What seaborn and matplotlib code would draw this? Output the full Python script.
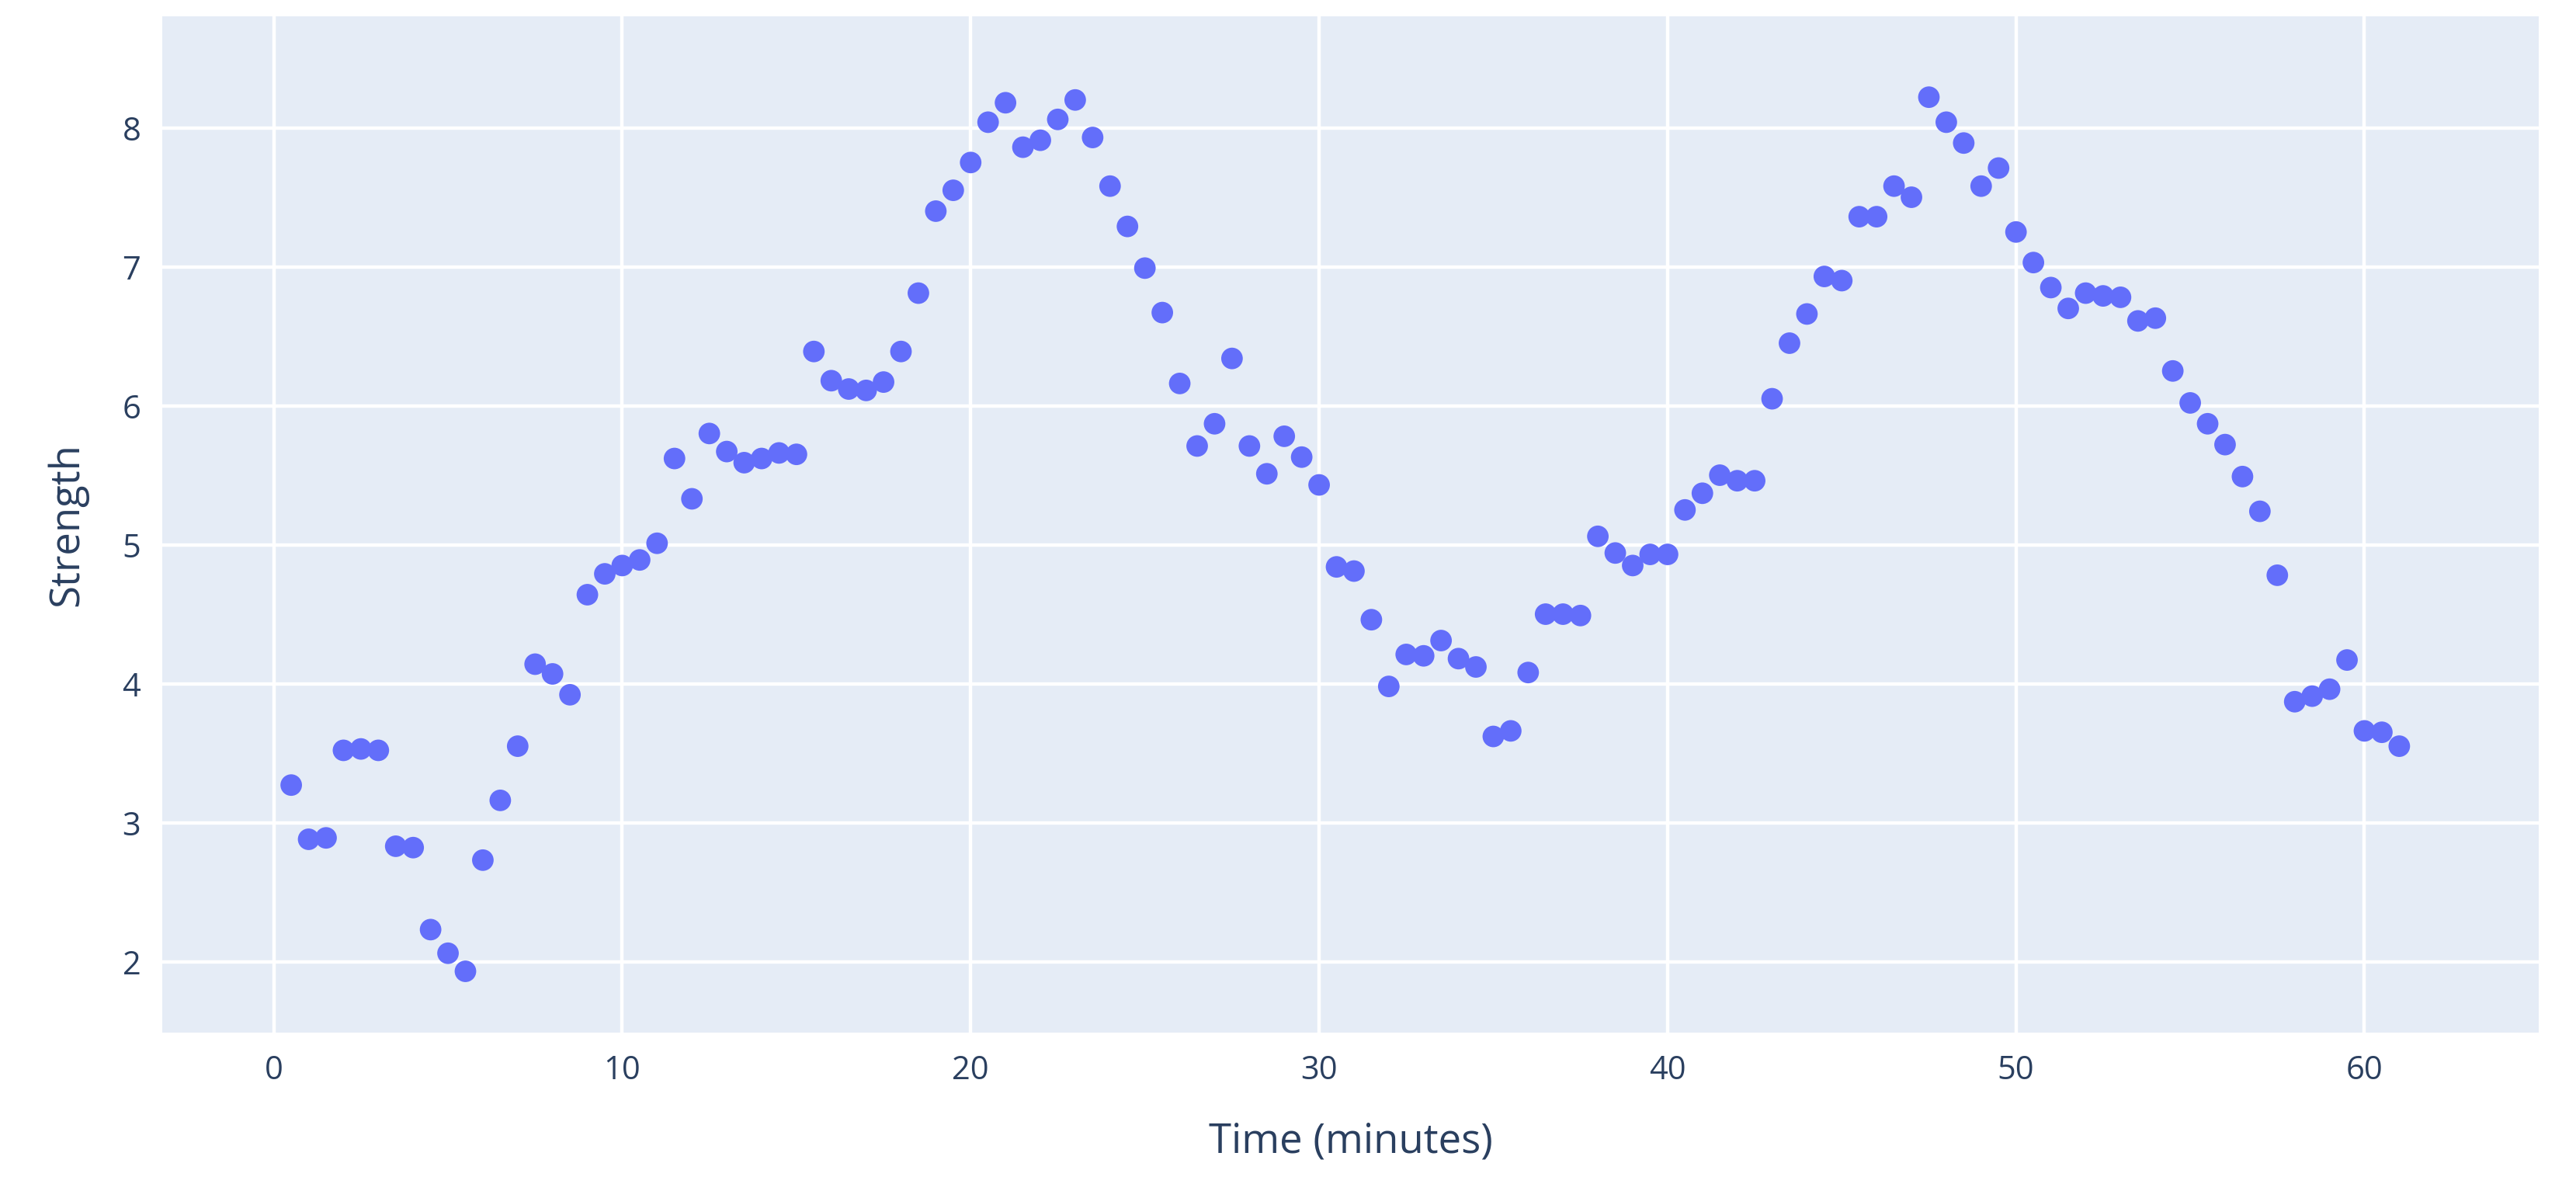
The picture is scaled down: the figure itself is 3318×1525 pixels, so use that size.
import matplotlib
matplotlib.use("Agg")
import matplotlib.pyplot as plt
import seaborn as sns
import numpy as np
import pandas as pd

time = [i * 0.5 for i in range(1, 123)]
strength = [3.27, 2.88, 2.89, 3.52, 3.53, 3.52, 2.83, 2.82, 2.23, 2.06, 1.93, 2.73, 3.16, 3.55, 4.14, 4.07, 3.92,
            4.64, 4.79, 4.85, 4.89, 5.01, 5.62, 5.33, 5.80, 5.67, 5.59, 5.62, 5.66, 5.65, 6.39, 6.18, 6.12, 6.11,
            6.17, 6.39, 6.81, 7.40, 7.55, 7.75, 8.04, 8.18, 7.86, 7.91, 8.06, 8.20, 7.93, 7.58, 7.29, 6.99, 6.67,
            6.16, 5.71, 5.87, 6.34, 5.71, 5.51, 5.78, 5.63, 5.43, 4.84, 4.81, 4.46, 3.98, 4.21, 4.20, 4.31, 4.18,
            4.12, 3.62, 3.66, 4.08, 4.50, 4.50, 4.49, 5.06, 4.94, 4.85, 4.93, 4.93, 5.25, 5.37, 5.50, 5.46, 5.46,
            6.05, 6.45, 6.66, 6.93, 6.90, 7.36, 7.36, 7.58, 7.50, 8.22, 8.04, 7.89, 7.58, 7.71, 7.25, 7.03, 6.85,
            6.70, 6.81, 6.79, 6.78, 6.61, 6.63, 6.25, 6.02, 5.87, 5.72, 5.49, 5.24, 4.78, 3.87, 3.91, 3.96, 4.17,
            3.66, 3.65, 3.55]
df = pd.DataFrame({"Time (minutes)": time, "Strength": strength})

sns.set_style("darkgrid", {"axes.facecolor": "#E5ECF6", "grid.color": "white"})
plt.rcParams['font.family'] = ['Open Sans', 'DejaVu Sans']
txt = "#2a3f5f"
fig = plt.figure(figsize=(16.59, 7.625), dpi=200)
ax = fig.add_axes([0.063, 0.128, 0.9225, 0.858])
sns.scatterplot(data=df, x="Time (minutes)", y="Strength", ax=ax, color="#636EFA",
                s=100, edgecolor="none", alpha=1)
ax.set_xlim(-3.2, 65.0)
ax.set_ylim(1.49, 8.8)
ax.set_xticks([0, 10, 20, 30, 40, 50, 60])
ax.set_yticks([2, 3, 4, 5, 6, 7, 8])
for s in ax.spines.values():
    s.set_visible(False)
ax.grid(True, color="white", linewidth=1.6)
ax.tick_params(length=0, labelsize=15, labelcolor=txt, pad=10)
ax.set_xlabel("Time (minutes)", fontsize=19, color=txt, labelpad=16)
ax.set_ylabel("Strength", fontsize=19, color=txt, labelpad=16)
fig.savefig("out.png", dpi=200)
